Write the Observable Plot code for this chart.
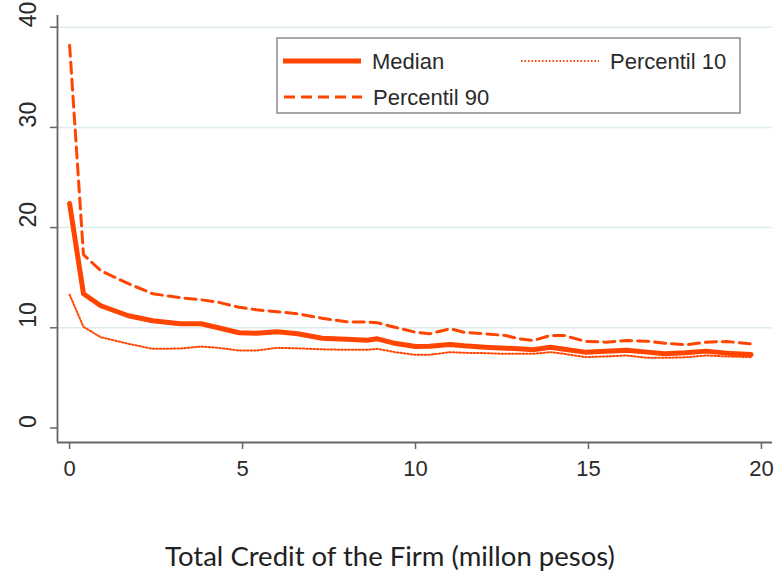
<!DOCTYPE html>
<html>
<head>
<meta charset="utf-8">
<script src="https://cdn.jsdelivr.net/npm/d3@7"></script>
<script src="https://cdn.jsdelivr.net/npm/@observablehq/plot@0.6"></script>
<style>
  html, body { margin: 0; padding: 0; background: #fff; }
  #caption { width: 780px; text-align: center; font-family: Lato, "Open Sans", sans-serif; font-size: 27.5px; color: #222; margin-top: 39px; }
</style>
</head>
<body>
<div id="chart"></div>
<div id="caption">Total Credit of the Firm (millon pesos)</div>
<script>
const credit = [0, 0.4, 0.9, 1.7, 2.4, 3.2, 3.8, 4.3, 4.9, 5.4, 6.0, 6.6, 7.3, 8.0, 8.6, 8.9, 9.4, 10.0, 10.4, 11.0, 11.4, 12.0, 12.6, 13.0, 13.4, 13.9, 14.3, 14.9, 15.5, 16.1, 16.7, 17.2, 17.8, 18.4, 19.0, 19.7];
const median = [22.4, 13.4, 12.2, 11.2, 10.7, 10.4, 10.4, 10.0, 9.5, 9.45, 9.6, 9.4, 8.95, 8.85, 8.75, 8.9, 8.45, 8.13, 8.16, 8.33, 8.2, 8.06, 7.96, 7.9, 7.8, 8.06, 7.85, 7.57, 7.67, 7.75, 7.57, 7.4, 7.5, 7.67, 7.47, 7.33];
const p90 = [38.2, 17.3, 15.7, 14.4, 13.4, 13.0, 12.8, 12.55, 12.05, 11.8, 11.6, 11.4, 10.95, 10.6, 10.56, 10.5, 10.06, 9.56, 9.4, 9.9, 9.56, 9.4, 9.23, 8.9, 8.73, 9.23, 9.23, 8.65, 8.56, 8.73, 8.66, 8.46, 8.3, 8.56, 8.63, 8.4];
const p10 = [13.3, 10.1, 9.06, 8.4, 7.9, 7.93, 8.13, 8.0, 7.73, 7.73, 8.0, 7.95, 7.85, 7.8, 7.8, 7.9, 7.57, 7.3, 7.3, 7.57, 7.5, 7.47, 7.4, 7.4, 7.4, 7.57, 7.4, 7.07, 7.14, 7.24, 7.0, 7.0, 7.05, 7.24, 7.14, 7.07];
const xTicks = [0, 5, 10, 15, 20];
const yTicks = [0, 10, 20, 30, 40];
const gridTicks = [10, 20, 30, 40];
const seriesNames = ["Median", "Percentil 10", "Percentil 90"];

const xDomain = [-0.35, 20.32];
const yDomain = [-1.45, 41.17];
const color = "#ff4500";
const font = "'Liberation Sans', Arial, sans-serif";

const rows = (vals) => credit.map((x, i) => ({x, y: vals[i]}));

const chart = Plot.plot({
  width: 775,
  height: 500,
  marginLeft: 57,
  marginRight: 3,
  marginTop: 15,
  marginBottom: 58,
  style: {fontFamily: font, background: "#fff"},
  x: {domain: xDomain},
  y: {domain: yDomain},
  marks: [
    Plot.gridY(gridTicks, {stroke: "#dfecef", strokeOpacity: 1, strokeWidth: 1.5}),
    Plot.ruleX([xDomain[0]], {stroke: "#666", strokeWidth: 1.8}),
    Plot.ruleY([yDomain[0]], {stroke: "#666", strokeWidth: 1.8}),
    Plot.axisX({ticks: xTicks, tickSize: 7, tickPadding: 11, fontSize: 22, stroke: "#666", strokeWidth: 1.5, fill: "#2a2a2a", label: null}),
    Plot.axisY({ticks: yTicks, tickSize: 7, tickFormat: () => "", stroke: "#666", strokeWidth: 1.5, label: null}),
    Plot.text(yTicks, {y: d => d, text: d => String(d), frameAnchor: "left", dx: -29, rotate: -90, fontSize: 23, fill: "#2a2a2a"}),
    Plot.line(rows(p10), {x: "x", y: "y", stroke: color, strokeWidth: 2, strokeDasharray: "1.5,2"}),
    Plot.line(rows(p90), {x: "x", y: "y", stroke: color, strokeWidth: 3, strokeDasharray: "11,6"}),
    Plot.line(rows(median), {x: "x", y: "y", stroke: color, strokeWidth: 5})
  ]
});
document.getElementById("chart").appendChild(chart);

// Legend inside plot area
const svg = d3.select(chart);
const g = svg.append("g").attr("font-family", font).attr("font-size", 22).attr("fill", "#2a2a2a").attr("text-anchor", "start");
g.append("rect").attr("x", 277).attr("y", 38).attr("width", 463).attr("height", 75).attr("fill", "#fff").attr("stroke", "#8a8a8a").attr("stroke-width", 1.5);
const entries = [
  {name: seriesNames[0], x: 283, y: 61, sw: 5, dash: null},
  {name: seriesNames[1], x: 521, y: 61, sw: 2, dash: "1.5,2"},
  {name: seriesNames[2], x: 284, y: 97, sw: 3, dash: "11,6"}
];
for (const e of entries) {
  const l = g.append("line").attr("x1", e.x).attr("x2", e.x + 78).attr("y1", e.y).attr("y2", e.y)
    .attr("stroke", color).attr("stroke-width", e.sw);
  if (e.dash) l.attr("stroke-dasharray", e.dash);
  g.append("text").attr("x", e.x + 89).attr("y", e.y).attr("dy", "0.36em").text(e.name);
}
</script>
</body>
</html>
